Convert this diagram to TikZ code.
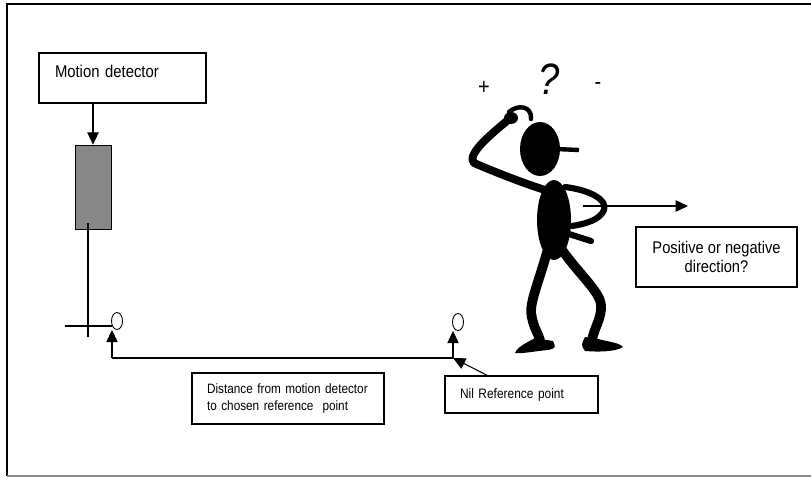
\documentclass[tikz,border=0pt]{standalone}
\usepackage{fontspec}
\setmainfont[FakeStretch=0.87]{Liberation Sans}
\usetikzlibrary{arrows.meta,positioning,shapes.geometric}

\begin{document}
\begin{tikzpicture}[x=0.02cm, y=-0.02cm,
    box/.style={draw, line width=0.6pt, inner sep=0pt},
    wire/.style={line width=0.6pt},
    tip/.style={-{Triangle[length=7pt, width=6.5pt]}},
    zero/.style={draw, ellipse, line width=0.5pt, minimum width=0.22cm, minimum height=0.34cm, inner sep=0pt},
    arm/.style={line width=4.5pt, line cap=round, line join=round},
    leg/.style={line width=5.5pt, line cap=round, line join=round}]
    \useasboundingbox (0,0) rectangle (811,477);
    \draw[line width=1.1pt] (811,4) -- (7,4) -- (7,476);
    \draw[black!45, line width=1pt] (7,476) -- (811,476);

    \node[box, minimum width=3.34cm, minimum height=1cm, inner xsep=0.32cm, text width=2.7cm, align=left,
        text height=7pt, text depth=8.1pt, font=\fontsize{9.7}{11}\selectfont] (md) at (122.5,78) {Motion detector};
    \node[draw, fill=black!47, minimum width=0.72cm, minimum height=1.68cm, inner sep=0pt] (sensor) at (93,187) {};
    \draw[wire, tip] (md.south -| sensor.north) -- (sensor.north);

    \coordinate (foot) at (88,337);
    \coordinate (tick) at (65,326);
    \coordinate (dstart) at (112,358);
    \coordinate (dend) at (453,358);
    \node[zero] (origin) at (117,321) {};
    \node[zero] (nilzero) at (458,322) {};
    \draw[wire] ([yshift=0.12cm]sensor.south -| foot) -- (foot);
    \draw[wire] (tick) -- (tick -| dstart);
    \draw[wire, tip] (dstart) -- (dstart |- origin.south);
    \draw[wire] (dstart) -- (dend);
    \draw[wire, tip] (dend) -- (dend |- nilzero.south);

    \node[box, minimum width=3.84cm, minimum height=1.02cm, inner xsep=0.3cm, text width=3.24cm, align=left,
        font=\fontsize{7.7}{9.6}\selectfont] (dist) at (288,398.5) {Distance from motion detector\\to chosen reference\ \ point};
    \node[box, minimum width=3.06cm, minimum height=0.74cm, inner xsep=0.3cm, text width=2.46cm, align=left,
        font=\fontsize{7.8}{9.6}\selectfont] (nil) at (521.5,394.5) {Nil Reference point};
    \draw[wire, tip] ([xshift=0.86cm]nil.north west) -- (dend);

    \node[box, minimum width=3.22cm, minimum height=1.2cm, align=center,
        font=\fontsize{9.6}{11.3}\selectfont] (dir) at (716.5,257) {Positive or negative\\direction?};
    \coordinate (hip) at (583,206);
    \coordinate (ahead) at (688,206);
    \draw[wire, tip] (hip) -- (ahead);

    \node[font=\fontsize{13}{13}\selectfont] (plus) at (484,88) {+};
    \node[font=\fontsize{25}{25}\selectfont\itshape] (qmark) at (549,79) {?};
    \node[font=\fontsize{13}{13}\selectfont] (minus) at (598,86) {-};

    \fill (540,149) ellipse [x radius=20, y radius=27];
    \draw[line width=2.5pt] (556,149) -- (579,150);
    \fill (511,118) ellipse [x radius=7, y radius=6];
    \draw[line width=2.5pt, line cap=round] (509,112) .. controls (518,104) and (532,106) .. (531,119);
    \draw[arm] (508,120) .. controls (490,135) and (466,155) .. (474,163) .. controls (495,172) and (520,182) .. (545,190);
    \fill (554,220) ellipse [x radius=17, y radius=40];
    \draw[line width=3.5pt, line cap=round, line join=round] (565,187) .. controls (590,190) and (608,200) .. (604,210)
        .. controls (600,220) and (585,224) .. (572,226);
    \draw[line width=3.5pt, line cap=round] (569,234) -- (591,241);
    \draw[leg] (547,252) .. controls (538,285) and (528,305) .. (532,318) .. controls (534,328) and (538,333) .. (540,340);
    \draw[leg] (562,250) .. controls (580,275) and (600,292) .. (601,305) .. controls (602,318) and (594,328) .. (592,340);
    \fill (535,338) -- (553,341) .. controls (556,348) .. (548,350) .. controls (535,351) and (522,354) .. (515,353)
        .. controls (517,347) and (528,342) .. cycle;
    \fill (585,337) -- (598,339) .. controls (610,342) and (620,343) .. (623,347) .. controls (615,352) and (598,352) .. (585,351)
        .. controls (581,345) .. cycle;
\end{tikzpicture}
\end{document}
